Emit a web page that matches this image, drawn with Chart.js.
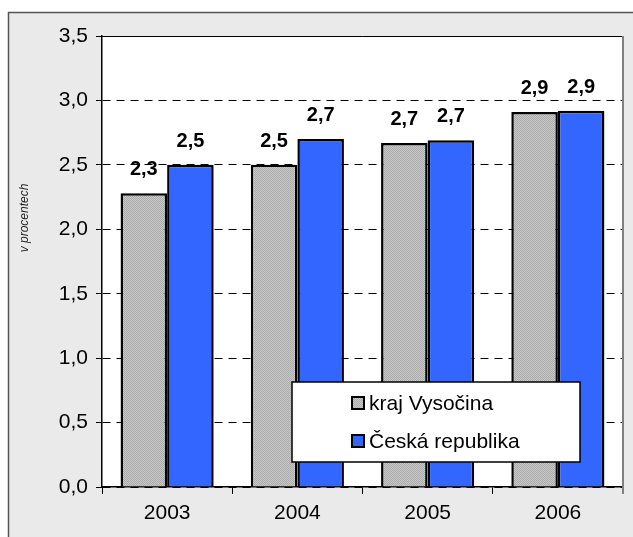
<!DOCTYPE html>
<html>
<head>
<meta charset="utf-8">
<script src="https://cdn.jsdelivr.net/npm/chart.js@4/dist/chart.umd.min.js"></script>
<style>
  html, body { margin: 0; padding: 0; background: #fff; }
  #wrap { width: 633px; height: 537px; position: relative; }
</style>
</head>
<body>
<div id="wrap"><canvas id="chartCanvas" width="633" height="537"></canvas></div>
<script>
// chart data
const years = ['2003', '2004', '2005', '2006'];
const krajValues = [2.28, 2.50, 2.67, 2.91];
const czValues = [2.50, 2.70, 2.69, 2.92];
const seriesNames = ['kraj Vysočina', 'Česká republika'];
const yTicks = [0, 0.5, 1, 1.5, 2, 2.5, 3, 3.5];
const yTitle = 'v procentech';

const FONT = 'Arial, "Liberation Sans", sans-serif';

function fmt(v) {
  return v.toFixed(1).replace('.', ',');
}

// fine gray dither like the old office hatch fill
function makeHatch() {
  const c = document.createElement('canvas');
  c.width = 4; c.height = 4;
  const g = c.getContext('2d');
  g.fillStyle = '#cacaca';
  g.fillRect(0, 0, 4, 4);
  g.fillStyle = '#a9a9a9';
  for (let i = 0; i < 4; i++) {
    g.fillRect(i, i, 1, 1);
    g.fillRect((i + 2) % 4, i, 1, 1);
  }
  return g.createPattern(c, 'repeat');
}
const hatch = makeHatch();
const BLUE = '#3366ff';

// background frame + white plot area
const framePlugin = {
  id: 'frame',
  beforeDraw(chart) {
    const ctx = chart.ctx;
    const a = chart.chartArea;
    ctx.save();
    ctx.fillStyle = '#eaeaea';
    ctx.fillRect(8, 12, chart.width - 8, chart.height - 12);
    ctx.strokeStyle = '#555';
    ctx.lineWidth = 1.5;
    ctx.beginPath();
    ctx.moveTo(8.5, chart.height);
    ctx.lineTo(8.5, 12.5);
    ctx.lineTo(chart.width, 12.5);
    ctx.stroke();
    ctx.fillStyle = '#ffffff';
    ctx.fillRect(a.left, a.top, a.right - a.left, a.bottom - a.top);
    ctx.restore();
  },
  afterDraw(chart) {
    const ctx = chart.ctx;
    const a = chart.chartArea;
    ctx.save();
    // top edge solid
    ctx.strokeStyle = '#000';
    ctx.lineWidth = 1;
    ctx.beginPath();
    ctx.moveTo(a.left, a.top + 0.5);
    ctx.lineTo(a.right, a.top + 0.5);
    ctx.stroke();
    // right edge gray
    ctx.strokeStyle = '#808080';
    ctx.lineWidth = 2;
    ctx.beginPath();
    ctx.moveTo(a.right, a.top);
    ctx.lineTo(a.right, a.bottom + 7);
    ctx.stroke();

    // y title
    ctx.fillStyle = '#222';
    ctx.font = 'italic 12px ' + FONT;
    ctx.textAlign = 'center';
    ctx.textBaseline = 'middle';
    ctx.translate(25, 218);
    ctx.rotate(-Math.PI / 2);
    ctx.fillText(yTitle, 0, 0);
    ctx.restore();

    // value labels
    ctx.save();
    ctx.fillStyle = '#000';
    ctx.font = 'bold 20px ' + FONT;
    ctx.textAlign = 'center';
    ctx.textBaseline = 'alphabetic';
    chart.data.datasets.forEach((ds, di) => {
      const meta = chart.getDatasetMeta(di);
      meta.data.forEach((bar, i) => {
        ctx.fillText(fmt(ds.data[i]), bar.x, bar.y - 18);
      });
    });
    ctx.restore();

    // legend box
    const lx = 292, ly = 382, lw = 288, lh = 80;
    ctx.save();
    ctx.fillStyle = '#fff';
    ctx.fillRect(lx, ly, lw, lh);
    ctx.strokeStyle = '#000';
    ctx.lineWidth = 1.5;
    ctx.strokeRect(lx, ly, lw, lh);
    ctx.font = '21px ' + FONT;
    ctx.textAlign = 'left';
    ctx.textBaseline = 'middle';
    chart.data.datasets.forEach((ds, di) => {
      const cy = ly + 21 + di * 38;
      ctx.fillStyle = ds.backgroundColor;
      ctx.fillRect(352, cy - 6, 12, 12);
      ctx.strokeStyle = '#000';
      ctx.lineWidth = 2;
      ctx.strokeRect(352, cy - 6, 12, 12);
      ctx.fillStyle = '#000';
      ctx.fillText(ds.label, 369, cy + 1);
    });
    ctx.restore();
  }
};

function renderChart() {
  const ctx = document.getElementById('chartCanvas').getContext('2d');
  new Chart(ctx, {
    type: 'bar',
    data: {
      labels: years,
      datasets: [
        {
          label: seriesNames[0],
          data: krajValues,
          backgroundColor: hatch,
          borderColor: '#000',
          borderWidth: 2.5
        },
        {
          label: seriesNames[1],
          data: czValues,
          backgroundColor: BLUE,
          borderColor: '#000',
          borderWidth: 2.5
        }
      ]
    },
    options: {
      responsive: false,
      animation: false,
      layout: { padding: { left: 0, right: 10, top: 36, bottom: 0 } },
      datasets: {
        bar: { categoryPercentage: 0.715, barPercentage: 1.0 }
      },
      scales: {
        x: {
          afterFit: s => { s.height = 50; },
          grid: { offset: true, drawOnChartArea: false, tickLength: 7, tickColor: '#000', tickWidth: 1 },
          border: { color: '#000', width: 1.5 },
          ticks: { color: '#000', font: { family: FONT, size: 21 }, padding: 7 }
        },
        y: {
          min: 0,
          max: 3.5,
          afterFit: s => { s.width = 102; },
          afterBuildTicks: s => { s.ticks = yTicks.map(v => ({ value: v })); },
          grid: { color: '#000', lineWidth: 1, tickLength: 6, tickColor: '#000', tickBorderDash: [] },
          border: { color: '#000', width: 1.5, dash: [8, 6] },
          ticks: {
            color: '#000',
            font: { family: FONT, size: 21 },
            padding: 8,
            callback: v => fmt(v)
          }
        }
      },
      plugins: {
        legend: { display: false },
        tooltip: { enabled: false }
      }
    },
    plugins: [framePlugin]
  });
}

document.addEventListener('DOMContentLoaded', renderChart);
</script>
</body>
</html>
